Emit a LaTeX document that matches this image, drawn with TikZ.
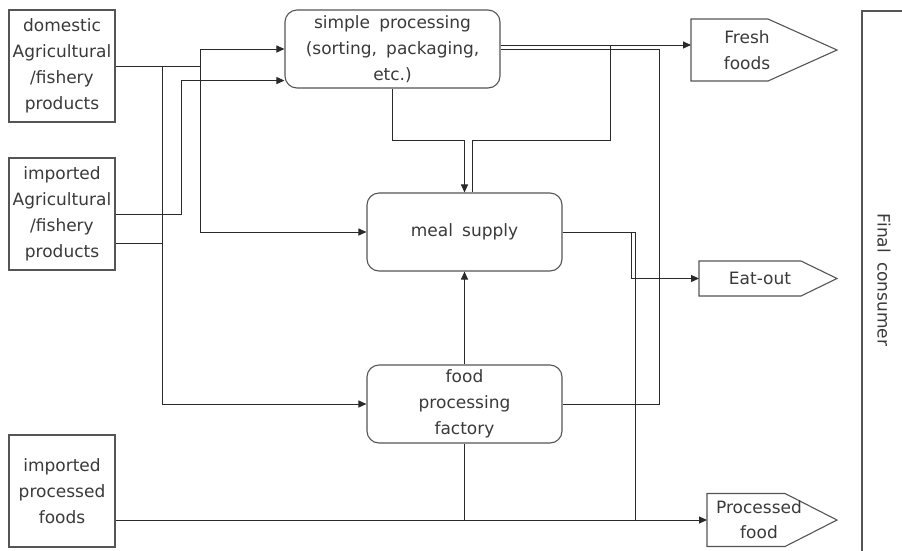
\documentclass[tikz,border=0pt]{standalone}
\usepackage{fontspec}
\setmainfont{DejaVu Sans}[WordSpace=1.7]
\usetikzlibrary{arrows.meta,calc}
\definecolor{ln}{HTML}{2A2A2A}
\definecolor{bx}{HTML}{555555}
\definecolor{tx}{HTML}{3A3A3A}
\begin{document}
\begin{tikzpicture}[x=1pt,y=-1pt,
  txt/.style={font=\fontsize{17}{26}\selectfont, text=tx, align=center, inner sep=0pt},
  sq/.style={draw=bx, line width=1.1pt, inner sep=0pt, minimum width=106pt, minimum height=112pt},
  rbox/.style={draw=bx, line width=1.1pt, rounded corners=12pt, inner sep=0pt, minimum height=78pt},
  area/.style={inner sep=0pt, outer sep=0pt},
  penta/.style={draw=bx, line width=1.1pt},
  flow/.style={draw=ln, line width=1.0pt},
  arr/.style={flow, -{Triangle[length=8pt,width=7pt]}},
]
\fill[white] (0,0) rectangle (902,550);
\useasboundingbox (0,0) rectangle (902,550);

% source boxes
\node[sq, txt] (dom) at (62,66) {domestic\\Agricultural\\/fishery\\products};
\node[sq, txt] (impA) at (62,214) {imported\\Agricultural\\/fishery\\products};
\node[sq, txt] (impP) at (62,491) {imported\\processed\\foods};

% processes
\node[rbox, txt, minimum width=215pt] (simp) at (392.5,49) {simple processing\\(sorting, packaging,\\etc.)};
\node[rbox, txt, minimum width=195pt] (meal) at (464.5,232) {meal supply};
\node[rbox, txt, minimum width=195pt] (fact) at (464.5,404) {food\\processing\\factory};

% outputs (pentagons)
\node[area, minimum width=146pt, minimum height=62pt] (fresh) at (764,50) {};
\draw[penta] (fresh.north west) -- ($(fresh.north east)+(-69,0)$) -- (fresh.east) -- ($(fresh.south east)+(-69,0)$) -- (fresh.south west) -- cycle;
\node[txt] (freshT) at (747,50) {Fresh\\foods};

\node[area, minimum width=138pt, minimum height=35pt] (eat) at (768,278.5) {};
\draw[penta] (eat.north west) -- ($(eat.north east)+(-36,0)$) -- (eat.east) -- ($(eat.south east)+(-36,0)$) -- (eat.south west) -- cycle;
\node[txt] (eatT) at (760,278) {Eat-out};

\node[area, minimum width=130pt, minimum height=53pt] (proc) at (772,520) {};
\draw[penta] (proc.north west) -- ($(proc.north east)+(-52,0)$) -- (proc.east) -- ($(proc.south east)+(-52,0)$) -- (proc.south west) -- cycle;
\node[txt, font=\fontsize{17}{25}\selectfont] (procT) at (759,520) {Processed\\food};

% final consumer
\draw[penta] (862,560) -- (862,11) -- (910,11);
\node[txt, rotate=-90] (fc) at (884,280) {Final consumer};

% helper coordinates
\coordinate (xa) at (200,0);
\coordinate (xb) at (162,0);
\coordinate (xc) at (181,0);
\coordinate (xf) at (610,0);
\coordinate (xg) at (659,0);
\coordinate (xh) at (635,0);
\coordinate (xe) at (631,0);
\coordinate (yb) at (0,520);
\coordinate (sin2) at ($(simp.south west)+(0,-8)$);
\coordinate (s1) at ($(simp.east)+(0,-4)$);

% connectors
\draw[arr] (dom.east) -- (dom.east -| xa) |- (simp.west);
\draw[arr] (dom.east -| xa) |- (meal.west);
\draw[arr] (dom.east -| xb) |- (fact.west);
\draw[arr] (impA.east) -- (impA.east -| xc) |- (sin2);
\draw[flow] ($(impA.east)+(0,29)$) -- ($(impA.east)+(47,29)$);
\draw[arr] (simp.south) -- ++(0,52) -| (meal.north);
\draw[flow] ($(meal.north)+(8,0)$) -- ++(0,-52) -| (xf |- s1);
\draw[arr] (s1) -- (s1 -| fresh.west);
\draw[flow] (fact.east) -- (fact.east -| xg) |- (simp.east);
\draw[flow] (meal.east) -| (xh |- yb);
\draw[arr] (meal.east) -- (meal.east -| xe) |- (eat.west);
\draw[flow] (fact.south) -- (fact.south |- yb);
\draw[arr] (fact.north) -- (meal.south);
\draw[arr] ($(impP.east)+(0,29)$) -- (proc.west);
\end{tikzpicture}
\end{document}
